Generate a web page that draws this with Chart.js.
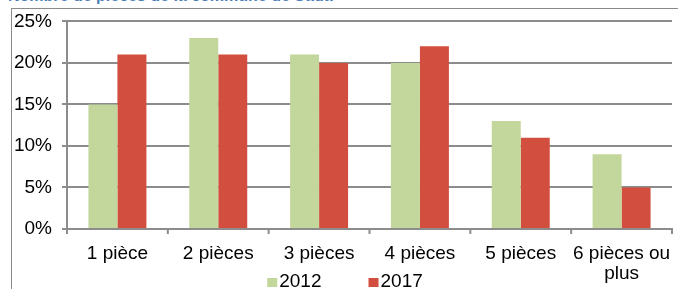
<!DOCTYPE html>
<html>
<head>
<meta charset="utf-8">
<script src="https://cdn.jsdelivr.net/npm/chart.js@4"></script>
<style>
html,body{margin:0;padding:0;background:#fff;overflow:hidden;}
#wrap{position:relative;width:678px;height:289px;}
#title{position:absolute;left:8px;top:-13px;font:bold 16px "Liberation Sans",Arial,sans-serif;color:#4A7EBB;white-space:nowrap;}
#box{position:absolute;left:11px;top:8px;width:700px;height:300px;border-left:1px solid #8a8a8a;border-top:1px solid #8a8a8a;}
canvas{position:absolute;left:0;top:0;}
</style>
</head>
<body>
<div id="wrap">
<div id="title">Nombre de pièces de la commune de Sada</div>
<div id="box"></div>
<canvas id="c" width="678" height="289"></canvas>
</div>
<script>
const categories = ["1 pièce", "2 pièces", "3 pièces", "4 pièces", "5 pièces", ["6 pièces ou", "plus"]];
const series2012 = [15, 23, 21, 20, 13, 9];
const series2017 = [21, 21, 20, 22, 11, 5];
const yTicks = [0, 5, 10, 15, 20, 25];

const FONT = '"Liberation Sans", Arial, sans-serif';
const tickFont = { family: FONT, size: 19, lineHeight: 1.05 };

new Chart(document.getElementById('c'), {
  type: 'bar',
  data: {
    labels: categories,
    datasets: [
      { label: '2012', data: series2012, backgroundColor: '#C3D69B', categoryPercentage: 0.575, barPercentage: 1 },
      { label: '2017', data: series2017, backgroundColor: '#D24F3F', categoryPercentage: 0.575, barPercentage: 1 }
    ]
  },
  options: {
    responsive: false,
    animation: false,
    layout: { padding: { top: 10, right: 6, left: 0, bottom: 0 } },
    plugins: {
      legend: { display: false },
      tooltip: { enabled: false }
    },
    scales: {
      x: {
        grid: { display: false, drawOnChartArea: false },
        border: { display: true, color: '#8c8c8c', width: 2 },
        ticks: { maxRotation: 0, minRotation: 0, padding: 7, autoSkip: false, color: '#000', font: tickFont },
        afterFit(s) { s.height = 60; s.paddingRight = 0; s.paddingLeft = 0; }
      },
      y: {
        min: 0, max: 25,
        afterBuildTicks(s) { s.ticks = yTicks.map(v => ({ value: v })); },
        ticks: { callback: v => v + '%', padding: 10, color: '#000', font: { family: FONT, size: 19 } },
        grid: { color: '#8c8c8c', lineWidth: 2, tickLength: 5 },
        border: { display: true, color: '#8c8c8c', width: 2 },
        afterFit(s) { s.width = 67; }
      }
    }
  },
  plugins: [{
    id: 'extras',
    afterDraw(chart) {
      const ctx = chart.ctx, a = chart.chartArea, x = chart.scales.x;
      ctx.save();
      // x tick marks between categories
      ctx.strokeStyle = '#8c8c8c';
      ctx.lineWidth = 2;
      const n = categories.length;
      const step = x.getPixelForValue(1) - x.getPixelForValue(0);
      for (let i = 0; i <= n; i++) {
        const px = i < n ? x.getPixelForValue(i) - step / 2 : a.right;
        ctx.beginPath();
        ctx.moveTo(px, a.bottom);
        ctx.lineTo(px, a.bottom + 5);
        ctx.stroke();
      }
      // legend
      ctx.font = '19px ' + FONT;
      ctx.textBaseline = 'middle';
      ctx.fillStyle = '#000';
      const box = 10, gapText = 2, gapItem = 47;
      const ds = chart.data.datasets;
      let total = 0;
      ds.forEach((d, i) => { total += box + gapText + ctx.measureText(d.label).width + (i < ds.length - 1 ? gapItem : 0); });
      let cx = chart.width / 2 + 6 - total / 2;
      const cy = 282;
      ds.forEach(d => {
        ctx.fillStyle = d.backgroundColor;
        ctx.fillRect(cx, cy - 4, box, box - 1);
        ctx.fillStyle = '#000';
        ctx.textAlign = 'left';
        ctx.fillText(d.label, cx + box + gapText, cy);
        cx += box + gapText + ctx.measureText(d.label).width + gapItem;
      });
      ctx.restore();
    }
  }]
});
</script>
</body>
</html>
